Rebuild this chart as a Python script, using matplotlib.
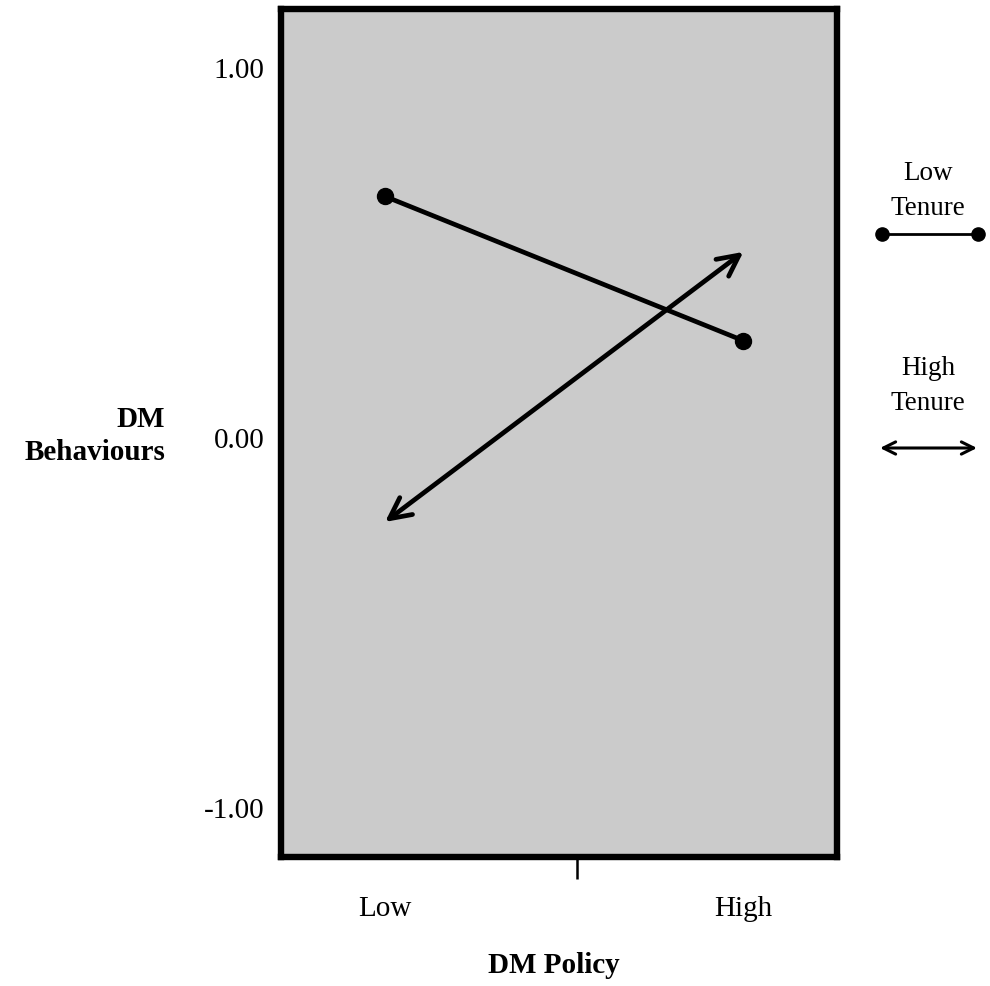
import matplotlib.pyplot as plt
from matplotlib.lines import Line2D
from matplotlib.patches import FancyArrowPatch

plt.rcParams["font.family"] = ["Liberation Serif", "DejaVu Serif"]

# data
policy_levels = ["Low", "High"]
policy_x = [0, 1]
low_tenure = [0.65, 0.26]
high_tenure = [-0.23, 0.50]
y_ticks = [-1.0, 0.0, 1.0]

fig = plt.figure(figsize=(9.9, 9.87), dpi=100)
ax = fig.add_axes([0.284, 0.131, 0.561, 0.859])
ax.set_facecolor("#cbcbcb")

ax.set_xlim(-0.29, 1.26)
ax.set_ylim(-1.135, 1.157)

# low tenure: line with dots
ax.plot(policy_x, low_tenure, color="black", lw=3.4, marker="o", ms=11.5, zorder=3)

# high tenure: double-headed arrow
ax.annotate("", xy=(policy_x[1], high_tenure[1]), xytext=(policy_x[0], high_tenure[0]),
	arrowprops=dict(arrowstyle="<->", lw=3.4, color="black", mutation_scale=38,
	shrinkA=0, shrinkB=0), zorder=3)

for s in ax.spines.values():
	s.set_linewidth(4.6)

ax.set_yticks(y_ticks)
ax.set_yticklabels([f"{v:.2f}" for v in y_ticks], fontsize=21)
ax.tick_params(axis="y", length=0, pad=12)

ax.set_xticks([0.535])
ax.set_xticklabels([""])
ax.tick_params(axis="x", length=16, width=1.8, direction="out")
for xv, lab in zip(policy_x, policy_levels):
	ax.text(xv, -0.06, lab, transform=ax.get_xaxis_transform(), ha="center", va="center", fontsize=21)

fig.text(165 / 990, 1 - 436 / 987, "DM\nBehaviours", ha="right", va="center", multialignment="right",
	fontsize=21, fontweight="bold", linespacing=1.3)
fig.text(554 / 990, 1 - 966 / 987, "DM Policy", ha="center", va="center",
	fontsize=21, fontweight="bold")

# legend on the right
fig.text(928 / 990, 1 - 191 / 987, "Low\nTenure", ha="center", va="center", fontsize=19.5, linespacing=1.5)
fig.add_artist(Line2D([882 / 990, 978 / 990], [1 - 235 / 987] * 2, transform=fig.transFigure,
	color="black", lw=2.0, marker="o", ms=9.5))
fig.text(928 / 990, 1 - 386 / 987, "High\nTenure", ha="center", va="center", fontsize=19.5, linespacing=1.5)
fig.add_artist(FancyArrowPatch(
	(880 / 990, 1 - 449 / 987), (977 / 990, 1 - 449 / 987), transform=fig.transFigure,
	arrowstyle="<->", lw=2.2, color="black", mutation_scale=22, shrinkA=0, shrinkB=0))

fig.savefig("out.png", dpi=100)
